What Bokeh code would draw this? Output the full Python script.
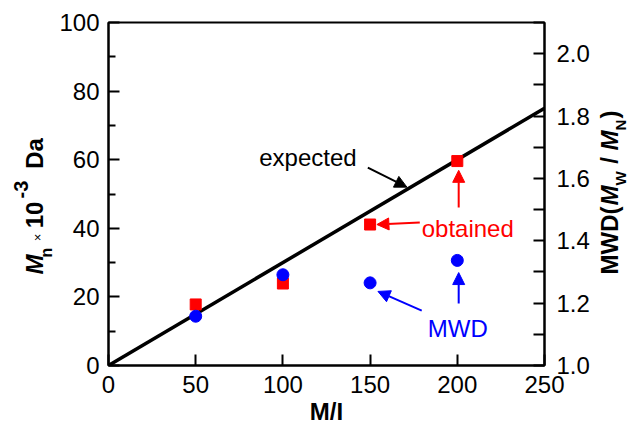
import math
from bokeh.plotting import figure
from bokeh.layouts import row
from bokeh.models import (Range1d, LinearAxis, FixedTicker, Label, Arrow, NormalHead,
                          PrintfTickFormatter)
from bokeh.embed import file_html
from bokeh.resources import INLINE

# ---- data ----
mi = [50, 100, 150, 200]
mn_obtained = [17.8, 23.9, 41.1, 59.6]
mwd = [1.158, 1.291, 1.265, 1.337]
expected_mi = [0, 250]
expected_mn = [0, 75]

x_ticks = [0, 50, 100, 150, 200, 250]
y_ticks = [0, 20, 40, 60, 80, 100]
y_minor = [10, 30, 50, 70, 90]
r_ticks = [1.0, 1.2, 1.4, 1.6, 1.8, 2.0]
r_minor = [1.1, 1.3, 1.5, 1.7, 1.9, 2.1]

FONT = "Liberation Sans"
H = 431
LW = 56        # left title strip width
RX = 595       # where the right title strip starts
W = 629
FT, FB = 22, 365   # frame top / bottom (page pixels)

# ---------------- main figure ----------------
p = figure(width=RX - LW, height=H, output_backend="svg", toolbar_location=None,
           x_range=Range1d(0, 250), y_range=Range1d(0, 100),
           min_border_left=107 - LW, min_border_right=RX - 544,
           min_border_top=FT, min_border_bottom=H - FB)
p.background_fill_color = "white"
p.border_fill_color = "white"
p.outline_line_color = "black"
p.outline_line_width = 2
p.xgrid.visible = False
p.ygrid.visible = False
p.extra_y_ranges = {"mwd": Range1d(1.0, 2.1)}


def style(ax, minor_len):
    ax.axis_line_width = 2
    ax.axis_line_color = "black"
    ax.major_tick_line_width = 2
    ax.minor_tick_line_width = 2
    ax.major_tick_in = 11
    ax.major_tick_out = 0
    ax.minor_tick_in = minor_len
    ax.minor_tick_out = 0
    ax.major_label_text_font = FONT
    ax.major_label_text_font_size = "24px"
    ax.major_label_text_color = "black"


xa = p.xaxis[0]
xa.ticker = FixedTicker(ticks=x_ticks, minor_ticks=[])
style(xa, 0)
xa.major_label_standoff = 10
xa.axis_label = "M/I"
xa.axis_label_text_font = FONT
xa.axis_label_text_font_size = "24px"
xa.axis_label_text_font_style = "bold"
xa.axis_label_text_color = "black"
xa.axis_label_standoff = 2

ya = p.yaxis[0]
ya.ticker = FixedTicker(ticks=y_ticks, minor_ticks=y_minor)
style(ya, 7)
ya.major_label_standoff = 9

ra = LinearAxis(y_range_name="mwd")
ra.ticker = FixedTicker(ticks=r_ticks, minor_ticks=r_minor)
ra.formatter = PrintfTickFormatter(format="%.1f")
style(ra, 11)
ra.major_label_standoff = 12
p.add_layout(ra, "right")

# expected line
p.line(expected_mi, expected_mn, line_color="black", line_width=3.5)
# obtained Mn
p.scatter(mi, mn_obtained, marker="square", size=11, fill_color="#ff0000", line_color="#ff0000")
# MWD
p.scatter(mi, mwd, marker="circle", size=12, fill_color="#0000ff", line_color="#0000ff",
          y_range_name="mwd")


def lab(fig, text, x, y, color="black", size="24px", style="normal", angle=0.0,
        align="left", baseline="alphabetic"):
    fig.add_layout(Label(x=x, y=y, text=text, text_color=color, text_font=FONT,
                         text_font_size=size, text_font_style=style, angle=angle,
                         text_align=align, text_baseline=baseline))


lab(p, "expected", 86.4, 60.6)
lab(p, "obtained", 179.6, 39.9, color="#ff0000")
lab(p, "MWD", 183.1, 10.8, color="#0000ff")


def arrow(x0, y0, x1, y1, color):
    p.add_layout(Arrow(end=NormalHead(size=12, fill_color=color, line_color=color, line_width=1),
                       x_start=x0, y_start=y0, x_end=x1, y_end=y1,
                       line_color=color, line_width=2))


arrow(148.7, 57.7, 171.1, 52.0, "black")
arrow(178.5, 41.7, 153.9, 41.1, "#ff0000")
arrow(200.8, 46.1, 200.8, 56.9, "#ff0000")
arrow(179.6, 16.0, 154.5, 21.6, "#0000ff")
arrow(200.8, 18.1, 200.8, 27.1, "#0000ff")


# ---------------- side strips for the rotated axis titles ----------------
# The row aligns the strips' frames with the main frame (FT..FB), so the
# y range is chosen so that y = H - page_y.
def strip(width, x0, x1):
    f = figure(width=width, height=H, output_backend="svg", toolbar_location=None,
               x_range=Range1d(x0, x1), y_range=Range1d(H - FB, H - FT),
               x_axis_location=None, y_axis_location=None, min_border=0)
    f.outline_line_color = None
    f.grid.visible = False
    f.background_fill_color = "white"
    f.border_fill_color = "white"
    return f


A = math.pi / 2


def vlab(fig, text, cx, cy, size="24px", style="bold"):
    # cx, cy: centre of the rotated piece, page pixels from the top-left
    lab(fig, text, cx, H - cy, size=size, style=style, angle=A, align="center", baseline="middle")


left = strip(LW, 0, LW)
vlab(left, "M", 34, 264, style="bold italic")
vlab(left, "n", 46, 252, size="16px")
vlab(left, "×", 37, 237, size="13px", style="normal")
vlab(left, "10", 34, 214.5)
vlab(left, "-3", 20, 189, size="20px")
vlab(left, "Da", 34, 153)

right = strip(W - RX, RX, W)
vlab(right, "MWD(", 609, 240)
vlab(right, "M", 609, 195, style="bold italic")
vlab(right, "W", 619.5, 178, size="15px")
vlab(right, "/", 609, 160)
vlab(right, "M", 609, 140, style="bold italic")
vlab(right, "N", 619.5, 124.5, size="15px")
vlab(right, ")", 609, 114)

layout = row(left, p, right)
open("out.html", "w").write(file_html(layout, INLINE))
